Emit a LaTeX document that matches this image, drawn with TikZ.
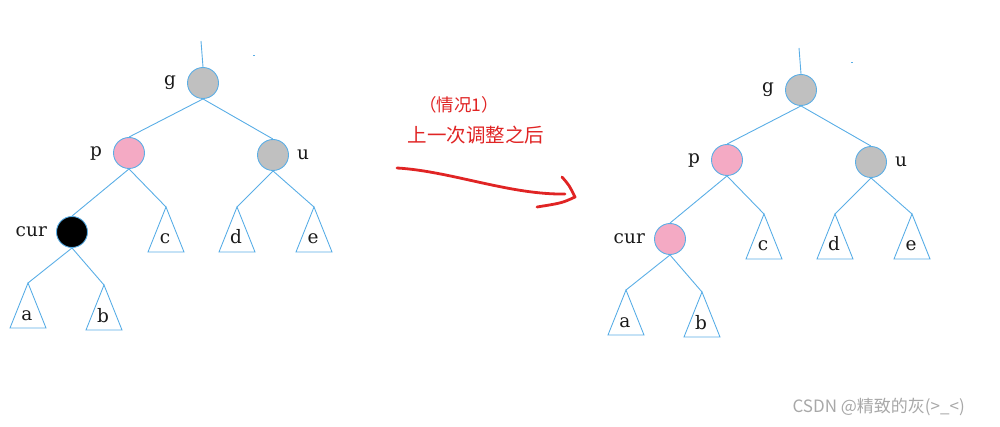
\documentclass[tikz,border=0pt]{standalone}
\usepackage{fontspec}
\newfontfamily\lblfont{DejaVu Serif}
\newfontfamily\cjkfont{Noto Sans CJK SC}
\usetikzlibrary{positioning}
\definecolor{EdgeBlue}{HTML}{5AAEE6}
\definecolor{NodeGray}{HTML}{C0C0C0}
\definecolor{NodePink}{HTML}{F4AAC4}
\definecolor{NoteRed}{HTML}{E02424}
\definecolor{MarkGray}{HTML}{A8A8A8}

\begin{document}
\begin{tikzpicture}[x=1pt,y=-1pt,
  rb/.style={circle,draw=EdgeBlue,line width=0.9pt,minimum size=31pt,inner sep=0pt},
  lbl/.style={font=\lblfont\fontsize{18.5}{18.5}\selectfont,inner sep=0pt,text=black!90},
  edge/.style={EdgeBlue,line width=0.9pt},
  note/.style={text=NoteRed},
  pen/.style={NoteRed,line width=2.8pt,line cap=round,line join=round}]
\useasboundingbox (0,0) rectangle (1000,427);
% the two trees: before and after
\foreach \t/\dx/\dy/\cc in {L/0/0/black,R/598/7/NodePink}{
  \begin{scope}[shift={(\dx,\dy)}]
  \node[rb,fill=NodeGray] (\t g) at (203,83) {};
  \node[rb,fill=NodePink] (\t p) at (129,153) {};
  \node[rb,fill=NodeGray] (\t u) at (273,155) {};
  \node[rb,fill=\cc] (\t cur) at (72,232) {};
  \coordinate (\t root) at (201,41);
  \node[lbl,left=11pt of \t g] (\t gl) {g};
  \node[lbl,left=11pt of \t p] (\t pl) {p};
  \node[lbl,right=8pt of \t u] (\t ul) {u};
  \node[lbl,left=9pt of \t cur] (\t curl) {cur};
  \foreach \s/\x/\y in {a/28/283,b/104/285,c/166/207,d/237/207,e/314/207}{
    \coordinate (\t\s top) at (\x,\y);
    \draw[edge] (\t\s top) -- ++(-18,45) -- ++(36,0) -- cycle;
    \node[lbl,anchor=base] (\t\s) at ([xshift=-1pt,yshift=-37pt]\t\s top) {\s};
  }
  \draw[edge] (\t root) -- (\t g.north);
  \draw[edge] (\t g.south) -- (\t p.north);
  \draw[edge] (\t g.south) -- (\t u.north);
  \draw[edge] (\t p.south) -- (\t cur.north);
  \draw[edge] (\t p.south) -- (\t ctop);
  \draw[edge] (\t u.south) -- (\t dtop);
  \draw[edge] (\t u.south) -- (\t etop);
  \draw[edge] (\t cur.south) -- (\t atop);
  \draw[edge] (\t cur.south) -- (\t btop);
  \fill[EdgeBlue] (253,55) rectangle ++(2,1);
  \end{scope}
}
% note and hand drawn arrow
\node[note,font=\cjkfont\fontsize{17.5}{17.5}\selectfont] (case) at (459,105) {（情况1）};
\node[note,font=\cjkfont\fontsize{19.5}{19.5}\selectfont] (after) at (476,135) {上一次调整之后};
\coordinate (penA) at (397,168);
\coordinate (penB) at (565,194);
\coordinate (hookA) at (562,177);
\coordinate (hookB) at (575,197);
\coordinate (hookC) at (537,207);
\draw[pen] (penA) .. controls (450,171) and (510,195) .. (penB);
\draw[pen] (hookA) .. controls (569,185) .. (hookB) .. controls (562,203) .. (hookC);
\node[font=\cjkfont\fontsize{17}{17}\selectfont,text=MarkGray,anchor=base west] (mark) at (789,412) {CSDN @精致的灰(>\_<)};
\end{tikzpicture}
\end{document}
